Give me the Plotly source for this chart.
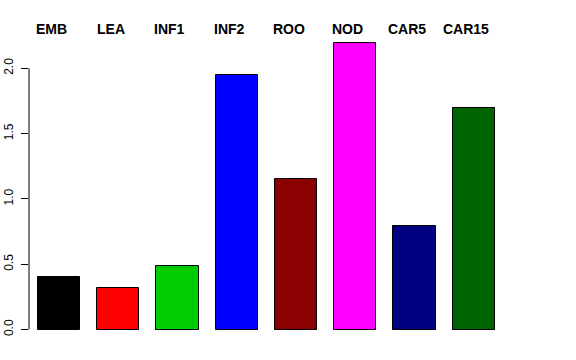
import plotly.graph_objects as go

categories = ["EMB", "LEA", "INF1", "INF2", "ROO", "NOD", "CAR5", "CAR15"]
values = [0.405, 0.32, 0.49, 1.95, 1.155, 2.19, 0.79, 1.695]
colors = ["#000000", "#FF0000", "#00CD00", "#0000FF", "#8B0000", "#FF00FF", "#000080", "#006400"]
y_ticks = [0.0, 0.5, 1.0, 1.5, 2.0]
y_tick_labels = ["0.0", "0.5", "1.0", "1.5", "2.0"]

xpos = list(range(len(categories)))

fig = go.Figure()
fig.add_trace(go.Bar(
    x=xpos, y=values, width=0.71,
    marker=dict(color=colors, line=dict(color="#000000", width=1)),
    showlegend=False, hoverinfo="skip",
))

for i, c in enumerate(categories):
    fig.add_annotation(
        x=i, y=1.0097, xref="x", yref="paper", text="<b>" + c + "</b>",
        showarrow=False, xshift=-7.5, yanchor="middle", xanchor="center",
        font=dict(family="Liberation Sans, Arial, sans-serif", size=14, color="#000000"),
    )

fig.add_shape(type="line", xref="paper", yref="y", x0=0, x1=0, y0=0, y1=2,
              line=dict(color="#000000", width=1))

fig.update_layout(
    width=576, height=360,
    margin=dict(l=29, r=29, t=32, b=18.5, pad=0, autoexpand=False),
    plot_bgcolor="white", paper_bgcolor="white",
    bargap=0,
    xaxis=dict(range=[-0.506, 8.236], showticklabels=False, showgrid=False,
               zeroline=False, showline=False, ticks="", automargin=False),
    yaxis=dict(range=[-0.0876, 2.278], tickvals=y_ticks, ticktext=y_tick_labels,
               showgrid=False, zeroline=False, showline=False, automargin=False,
               ticks="outside", ticklen=7, tickcolor="#000000", tickwidth=1,
               tickangle=-90, ticklabelstandoff=3,
               tickfont=dict(family="Liberation Sans, Arial, sans-serif", size=12, color="#000000")),
)

fig.write_html("out.html",
               config={"displayModeBar": False},
               post_script="document.body.style.margin='0';document.body.style.overflow='hidden';")
